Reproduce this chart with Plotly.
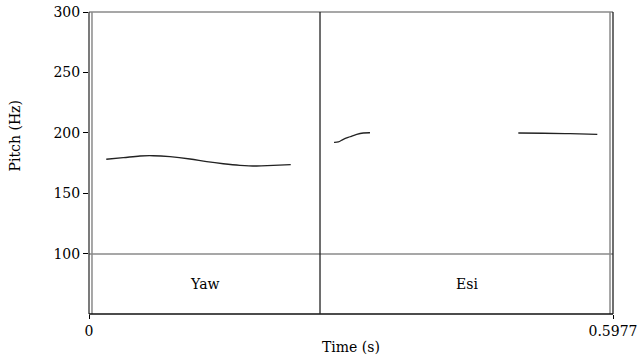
import plotly.graph_objects as go

# ---- data ----
t_max = 0.5977
seg1_t = [0.0197, 0.0391, 0.0582, 0.0733, 0.0924, 0.1152, 0.1343, 0.1532, 0.1722, 0.1913, 0.2102, 0.2301]
seg1_hz = [178.3, 179.6, 181.0, 181.2, 180.4, 178.5, 176.3, 174.6, 173.3, 172.7, 173.3, 173.8]
seg2_t = [0.2795, 0.2844, 0.2901, 0.2977, 0.3054, 0.3129, 0.3205]
seg2_hz = [192.3, 192.6, 194.8, 196.9, 198.9, 200.0, 200.2]
seg3_t = [0.4897, 0.5182, 0.5487, 0.5798]
seg3_hz = [200.0, 199.8, 199.4, 198.9]

tier_bounds = [0.0, 0.2635, 0.5977]
tier_labels = ["Yaw", "Esi"]

y_ticks = [100, 150, 200, 250, 300]
x_ticks = [0, 0.5977]
x_ticktext = ["0", "0.5977"]

FONT = "DejaVu Serif"
GRAY = "#8a8a8a"

fig = go.Figure()
for tt, hh in [(seg1_t, seg1_hz), (seg2_t, seg2_hz), (seg3_t, seg3_hz)]:
    fig.add_trace(go.Scatter(x=tt, y=hh, mode="lines", line=dict(color="#222222", width=1.3, shape="spline"),
                             showlegend=False, hoverinfo="skip"))

shapes = []
# gray pitch box lines
shapes.append(dict(type="line", xref="paper", yref="paper", x0=0, x1=1, y0=1, y1=1, line=dict(color=GRAY, width=1.5)))
shapes.append(dict(type="line", xref="paper", yref="paper", x0=0.0057, x1=0.0057, y0=0, y1=1, line=dict(color=GRAY, width=1.5)))
shapes.append(dict(type="line", xref="paper", yref="paper", x0=0.9943, x1=0.9943, y0=0, y1=1, line=dict(color=GRAY, width=1.5)))
# 100 Hz separator line
shapes.append(dict(type="line", xref="paper", yref="y", x0=0, x1=1, y0=100, y1=100, line=dict(color=GRAY, width=1.5)))
# outer black frame
shapes.append(dict(type="line", xref="paper", yref="paper", x0=0, x1=0, y0=0, y1=1, line=dict(color="#333333", width=1.3)))
shapes.append(dict(type="line", xref="paper", yref="paper", x0=1, x1=1, y0=0, y1=1, line=dict(color="#222222", width=1.3)))
shapes.append(dict(type="line", xref="paper", yref="paper", x0=0, x1=1, y0=0, y1=0, line=dict(color="#111111", width=1.3)))
# interval boundaries
for b in tier_bounds[1:-1]:
    shapes.append(dict(type="line", xref="x", yref="paper", x0=b, x1=b, y0=0, y1=1, line=dict(color="#222222", width=1.3)))

annotations = []
for i, lab in enumerate(tier_labels):
    annotations.append(dict(x=(tier_bounds[i] + tier_bounds[i + 1]) / 2, y=75.2, xref="x", yref="y",
                            text=lab, showarrow=False, font=dict(family=FONT, size=14, color="black")))
annotations.append(dict(x=0.5, y=-0.108, xref="paper", yref="paper", text="Time (s)", showarrow=False,
                        xanchor="center", yanchor="middle", font=dict(family=FONT, size=14, color="black")))
annotations.append(dict(x=-0.142, y=0.59, xref="paper", yref="paper", text="Pitch (Hz)", showarrow=False,
                        textangle=-90, xanchor="center", yanchor="middle",
                        font=dict(family=FONT, size=14, color="black")))

fig.update_layout(
    width=640, height=356,
    margin=dict(l=89, r=27, t=12, b=42),
    paper_bgcolor="white", plot_bgcolor="white",
    shapes=shapes, annotations=annotations,
    xaxis=dict(range=[0, t_max], tickvals=x_ticks, ticktext=x_ticktext, ticks="outside", ticklen=4,
               tickcolor="black", showgrid=False, zeroline=False, showline=False, automargin=False,
               tickfont=dict(family=FONT, size=14, color="black")),
    yaxis=dict(range=[50.4, 300], tickvals=y_ticks, ticks="outside", ticklen=5, tickcolor="black",
               showgrid=False, zeroline=False, showline=False, automargin=False,
               tickfont=dict(family=FONT, size=14, color="black")),
)

fig.write_html("out.html")
